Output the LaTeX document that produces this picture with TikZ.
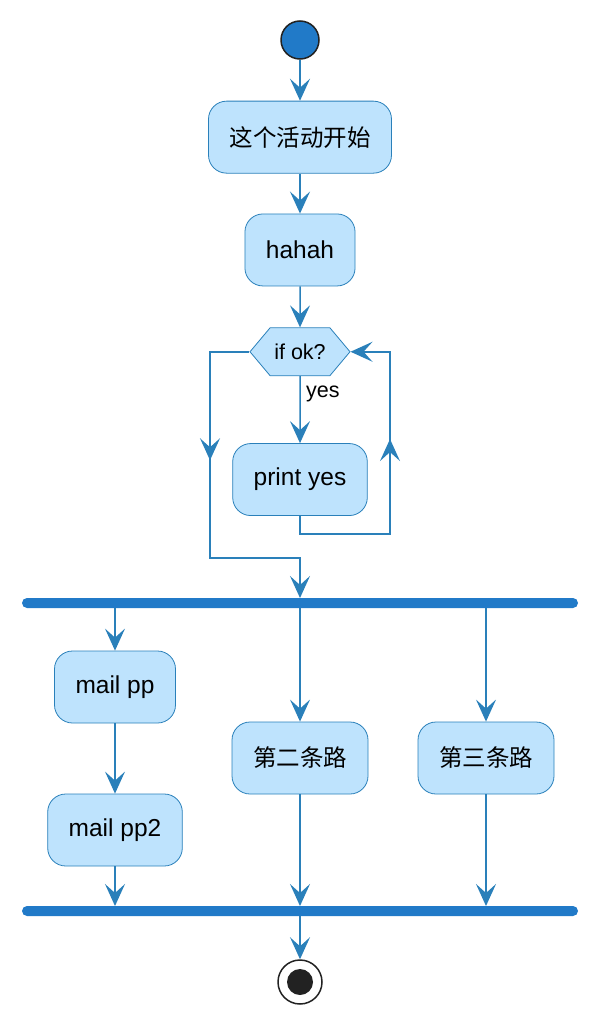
\documentclass[tikz,border=0pt]{standalone}
\usepackage{fontspec}
\setmainfont{Liberation Sans}
\newfontfamily\cjk{Noto Sans CJK SC}
\newcommand\zh{\fontsize{23.5}{28}\selectfont\cjk}
\usetikzlibrary{positioning,arrows.meta,shapes.symbols,decorations.markings}
\definecolor{flowblue}{HTML}{2A80BA}
\definecolor{boxfill}{HTML}{BEE3FD}
\definecolor{barblue}{HTML}{217AC8}
\definecolor{darkdot}{HTML}{222222}
\tikzset{
  >={Stealth[length=22pt,width=20pt,inset=9pt]},
  flow/.style={color=flowblue,line width=1.5pt},
  act/.style={rectangle,rounded corners=18pt,draw=flowblue,line width=0.8pt,
    fill=boxfill,minimum height=72pt,inner xsep=21pt,font=\fontsize{24.5}{29}\selectfont},
  cond/.style={signal,signal to=west and east,signal pointer angle=100,
    draw=flowblue,line width=0.8pt,fill=boxfill,minimum width=100pt,
    minimum height=48pt,inner xsep=2pt,font=\fontsize{21.5}{26}\selectfont},
  bar/.style={rectangle,fill=barblue,minimum width=556pt,minimum height=10pt,
    inner sep=0pt,outer sep=0pt,rounded corners=5pt},
  startnode/.style={circle,fill=barblue,draw=darkdot,line width=1.5pt,minimum size=38pt,inner sep=0pt},
  stopnode/.style={circle,draw=darkdot,line width=1.5pt,minimum size=44pt,inner sep=0pt},
  midarrow/.style={postaction={decorate,decoration={markings,
    mark=at position #1 with {\arrow{>}}}}},
}
\begin{document}
\begin{tikzpicture}[x=1pt,y=-1pt]
  \useasboundingbox (0,0) rectangle (598,1022);
  \node[startnode] (start) at (300,40) {};
  \node[act,below=41pt of start]  (begin) {\zh 这个活动开始};
  \node[act,below=40pt of begin]  (hahah) {hahah};
  \node[cond,below=41pt of hahah] (ifok)  {if ok?};
  \node[act,below=67pt of ifok]   (print) {print yes};
  \node[bar] (fork) at (300,603) {};
  \node[act] (mailpp)  at (115,687) {mail pp};
  \node[act] (mailpp2) at (115,830) {mail pp2};
  \node[act] (road2)   at (300,758) {\zh 第二条路};
  \node[act] (road3)   at (486,758) {\zh 第三条路};
  \node[bar] (join) at (300,911) {};
  \node[stopnode] (stop) at (300,982) {};
  \node[circle,fill=darkdot,minimum size=26pt,inner sep=0pt] (stopdot) at (stop) {};
  \coordinate (loopr) at (390,534);
  \coordinate (loopl) at (210,558);
  \path[flow,->]
    (start) edge (begin)
    (begin) edge (hahah)
    (hahah) edge (ifok)
    (ifok)  edge node[right,pos=0.27,text=black,font=\fontsize{21.5}{26}\selectfont,xshift=2pt] {yes} (print)
    (mailpp) edge (mailpp2)
    (join) edge (stop);
  % fork and join branches
  \draw[flow,->] (fork.south -| mailpp) -- (mailpp);
  \draw[flow,->] (fork.south -| road2) -- (road2);
  \draw[flow,->] (fork.south -| road3) -- (road3);
  \draw[flow,->] (mailpp2) -- (mailpp2 |- join.north);
  \draw[flow,->] (road2) -- (road2 |- join.north);
  \draw[flow,->] (road3) -- (road3 |- join.north);
  % loop back and skip
  \draw[flow,->,midarrow=203pt] (print.south) |- (loopr) |- (ifok.east);
  \draw[flow,->,midarrow=148pt] (ifok.west) -| (loopl) -| (fork.north);
\end{tikzpicture}
\end{document}
